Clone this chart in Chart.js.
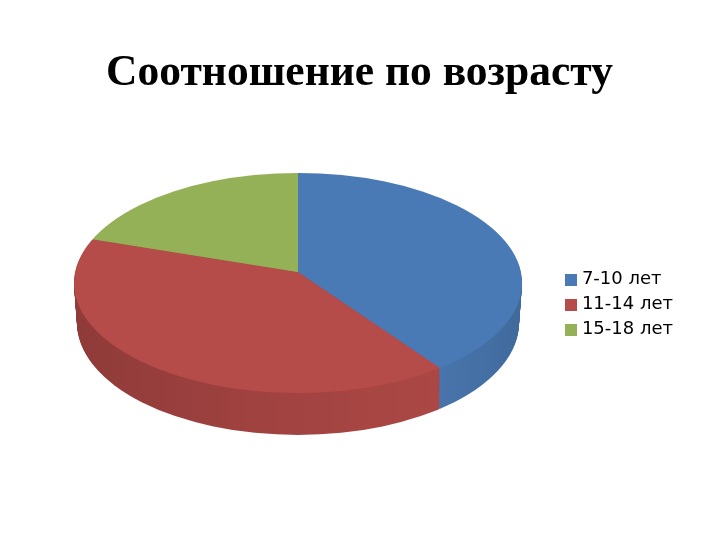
<!DOCTYPE html>
<html>
<head>
<meta charset="utf-8">
<title>Соотношение по возрасту</title>
<script src="https://cdn.jsdelivr.net/npm/chart.js@4/dist/chart.umd.min.js"></script>
<style>
  html, body { margin: 0; padding: 0; background: #fff; }
  #wrap { width: 720px; height: 540px; }
</style>
</head>
<body>
<div id="wrap"><canvas id="ageChart" width="720" height="540"></canvas></div>
<script>
const ageGroups = ['7-10 лет', '11-14 лет', '15-18 лет'];
const shares = [40, 40, 20];
const topColors = ['#4a7ab5', '#b54c49', '#95b158'];
// side wall colours, left end, middle and right end of the wall
const sideLeft = ['#4874ab', '#8f3b39', '#7d9449'];
const sideMid = ['#4570a5', '#a04240', '#7d9449'];
const sideRight = ['#40699b', '#ab4845', '#7d9449'];

// Tilted pie: top face ellipse, bottom face ellipse and the apex the slices meet at
const top3d = { x: 298, y: 283, rx: 224, ry: 110 };
const bottom3d = { x: 298, y: 323, rx: 221, ry: 112 };
const apex = { x: 298, y: 272 };
const depth = 41;
const tilt = top3d.ry / top3d.rx;

function swatch(color) {
    const c = document.createElement('canvas');
    c.width = 12;
    c.height = 12;
    const g = c.getContext('2d');
    g.fillStyle = color;
    g.fillRect(0, 0, 12, 12);
    return c;
}

// Draws a library arc element squashed into the tilted ellipse, shifted down by d
function drawLayer(ctx, arc, e, d, fill) {
    const k = 300 / arc.outerRadius;
    ctx.save();
    ctx.beginPath();
    ctx.ellipse(e.x, e.y, e.rx, e.ry, 0, 0, Math.PI * 2);
    ctx.clip();
    ctx.translate(apex.x, apex.y + d);
    ctx.scale(k, k * tilt);
    ctx.translate(-arc.x, -arc.y);
    const saved = arc.options;
    arc.options = Object.assign({}, saved, { backgroundColor: fill(k) });
    arc.draw(ctx);
    arc.options = saved;
    ctx.restore();
}

const pie3d = {
    id: 'pie3d',
    beforeDatasetDraw(chart, args) {
        const ctx = chart.ctx;
        const arcs = args.meta.data;
        // side wall first, bottom layer up to just under the top face
        for (let d = depth; d > 0; d--) {
            const t = d / depth;
            const e = {
                x: top3d.x,
                y: top3d.y + (bottom3d.y - top3d.y) * t,
                rx: top3d.rx + (bottom3d.rx - top3d.rx) * t,
                ry: top3d.ry + (bottom3d.ry - top3d.ry) * t
            };
            arcs.forEach((arc, i) => {
                drawLayer(ctx, arc, e, d, k => {
                    // gradient runs in the arc's own coordinates
                    const x0 = arc.x + (i === 0 ? 441 - apex.x : 74 - apex.x) / k;
                    const x1 = arc.x + (i === 0 ? 522 - apex.x : 441 - apex.x) / k;
                    const g = ctx.createLinearGradient(x0, 0, x1, 0);
                    g.addColorStop(0, sideLeft[i]);
                    g.addColorStop(0.5, sideMid[i]);
                    g.addColorStop(1, sideRight[i]);
                    return g;
                });
            });
        }
        arcs.forEach((arc, i) => drawLayer(ctx, arc, top3d, 0, () => topColors[i]));
        return false;
    },
    afterDatasetDraw(chart, args) {
        const ctx = chart.ctx;
        const total = shares.reduce((a, b) => a + b, 0);
        ctx.save();
        ctx.font = '17px "DejaVu Sans"';
        ctx.fillStyle = '#000';
        ctx.textAlign = 'center';
        ctx.textBaseline = 'middle';
        args.meta.data.forEach((arc, i) => {
            const mid = (arc.startAngle + arc.endAngle) / 2;
            const r = 110;
            const x = apex.x + r * Math.cos(mid);
            const y = apex.y + r * Math.sin(mid) * tilt;
            ctx.fillText(Math.round(shares[i] / total * 100) + '%', x, y);
        });
        ctx.restore();
    }
};

const config = {
    type: 'pie',
    data: {
        labels: ageGroups,
        datasets: [{
            data: shares,
            backgroundColor: topColors,
            borderWidth: 0
        }]
    },
    options: {
        responsive: false,
        animation: false,
        layout: { padding: { left: 36, right: 37, bottom: 56 } },
        plugins: {
            title: {
                display: true,
                text: 'Соотношение по возрасту',
                color: '#000',
                font: { family: '"Liberation Serif"', size: 43.5, weight: 'bold' },
                padding: { top: 48, bottom: 25 }
            },
            legend: {
                display: true,
                position: 'right',
                fullSize: false,
                labels: {
                    color: '#000',
                    font: { family: '"DejaVu Sans"', size: 18 },
                    padding: 7,
                    usePointStyle: true,
                    pointStyleWidth: 3,
                    generateLabels(chart) {
                        const items = Chart.overrides.pie.plugins.legend.labels.generateLabels(chart);
                        items.forEach((item, i) => { item.pointStyle = swatch(topColors[i]); });
                        return items;
                    }
                }
            },
            tooltip: { enabled: false }
        }
    },
    plugins: [pie3d]
};

new Chart(document.getElementById('ageChart').getContext('2d'), config);
</script>
</body>
</html>
